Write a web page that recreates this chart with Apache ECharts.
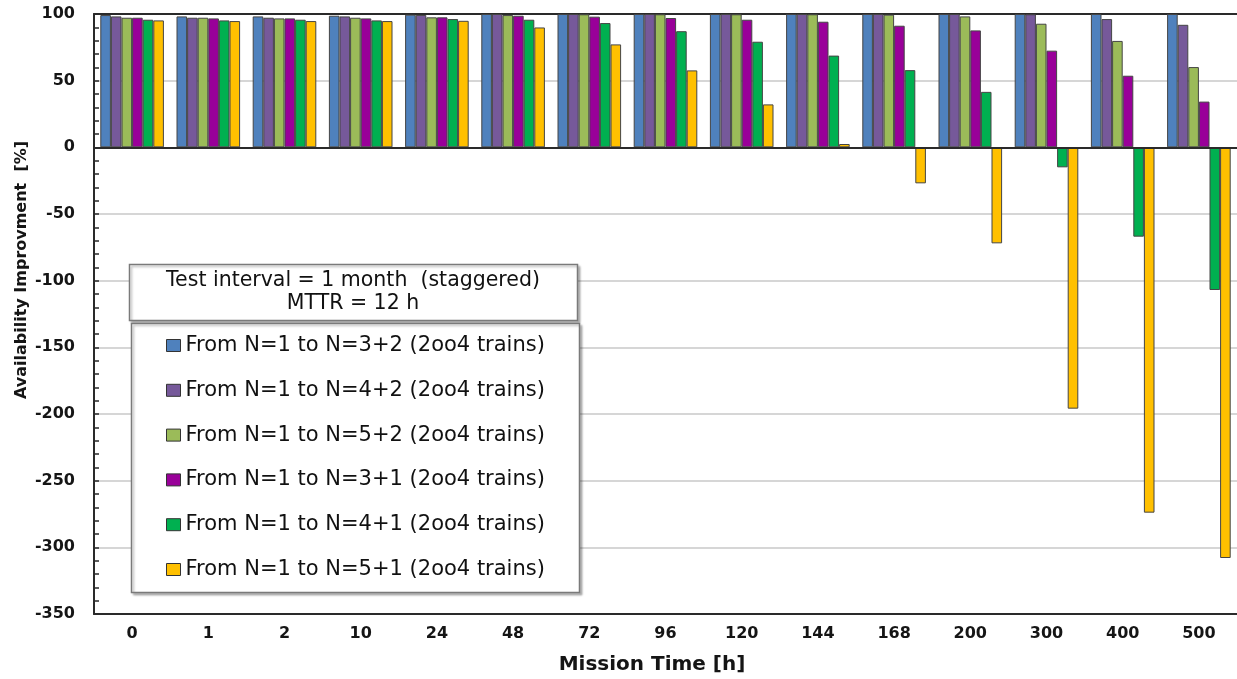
<!DOCTYPE html>
<html><head><meta charset="utf-8">
<script src="https://cdn.jsdelivr.net/npm/echarts/dist/echarts.min.js"></script>
<style>html,body{margin:0;padding:0;background:#fff}#c{width:1237px;height:679px}</style>
</head><body><div id="c"></div>
<script>
// Mission time categories [h]
const categories = ['0','1','2','10','24','48','72','96','120','144','168','200','300','400','500'];
const seriesNames = [
  'From N=1 to N=3+2 (2oo4 trains)',
  'From N=1 to N=4+2 (2oo4 trains)',
  'From N=1 to N=5+2 (2oo4 trains)',
  'From N=1 to N=3+1 (2oo4 trains)',
  'From N=1 to N=4+1 (2oo4 trains)',
  'From N=1 to N=5+1 (2oo4 trains)'
];
const seriesColors = ['#4F81BD','#76599A','#9BBB59','#990099','#00B050','#FFC000'];
// Availability improvement [%]
const n32 = [99.2, 98.2, 98.2, 98.7, 99.5, 100, 100, 100, 100, 100, 100, 100, 100, 100, 100];
const n42 = [98.2, 97.2, 97.2, 98.2, 99.3, 100, 100, 100, 100, 100, 100, 100, 99.8, 96.2, 91.9];
const n52 = [97.2, 97.2, 96.7, 97.2, 97.5, 99.2, 99.8, 99.8, 99.8, 99.8, 99.5, 98.2, 92.7, 79.8, 60.2];
const n31 = [97.2, 96.7, 96.7, 96.7, 97.5, 98.7, 98.0, 97.0, 95.7, 94.2, 91.2, 87.7, 72.5, 53.7, 34.3];
const n41 = [95.7, 95.2, 95.7, 95.2, 96.2, 95.7, 93.2, 87.1, 79.2, 68.8, 57.9, 41.6, -15, -67, -107];
const n51 = [95.2, 94.7, 94.7, 94.7, 94.9, 89.9, 77.2, 57.7, 32.2, 2.5, -27, -72, -196, -274, -308];
const seriesData = [n32, n42, n52, n31, n41, n51];
const yMin = -350, yMax = 100, yStep = 50;
const infoLines = ['Test interval = 1 month  (staggered)', 'MTTR = 12 h'];
const xTitle = 'Mission Time [h]';
const yTitle = 'Availability Improvment  [%]';

const chart = echarts.init(document.getElementById('c'));
const dark = '#2a2a2a';
const series = seriesData.map((d, i) => {
  const s = {
    name: seriesNames[i], type: 'bar', data: d,
    barWidth: 10.6, barGap: '0%',
    itemStyle: { color: seriesColors[i], borderColor: '#454545', borderWidth: 1 },
    z: 3
  };
  if (i === 5) {
    s.markLine = {
      silent: true, symbol: 'none', label: { show: false },
      lineStyle: { color: dark, width: 2, type: 'solid' },
      data: [{ yAxis: 0 }], z: 5
    };
  }
  return s;
});
const shadow = { shadowColor: 'rgba(0,0,0,0.25)', shadowOffsetX: 2, shadowOffsetY: 2, shadowBlur: 2 };
chart.setOption({
  animation: false,
  backgroundColor: '#fff',
  grid: { left: 94, right: 0, top: 14, bottom: 65, containLabel: false },
  xAxis: [{
    type: 'category', data: categories, position: 'bottom',
    axisLine: { onZero: false, lineStyle: { color: dark, width: 2 } },
    axisTick: { show: false },
    axisLabel: { margin: 12, color: '#151515', fontFamily: 'DejaVu Sans', fontWeight: 'bold', fontSize: 16 },
    splitLine: { show: false }
  }, {
    type: 'category', data: categories, position: 'top',
    axisLine: { onZero: false, lineStyle: { color: dark, width: 2 } },
    axisTick: { show: false }, axisLabel: { show: false }
  }],
  yAxis: {
    type: 'value', min: yMin, max: yMax, interval: yStep,
    axisLine: { show: true, lineStyle: { color: dark, width: 2 } },
    axisTick: { show: true, inside: true, length: 5, lineStyle: { color: dark, width: 1.5 } },
    minorTick: { show: true, splitNumber: 5, length: 5, lineStyle: { color: dark, width: 1.5 } },
    axisLabel: { margin: 19, color: '#151515', fontFamily: 'DejaVu Sans', fontWeight: 'bold', fontSize: 16 },
    splitLine: { show: true, lineStyle: { color: '#c8c8c8', width: 1.5 } }
  },
  legend: {
    orient: 'vertical', left: 166, top: 335, padding: 0,
    itemWidth: 14, itemHeight: 12, itemGap: 23.8, icon: 'rect',
    itemStyle: { borderColor: '#333', borderWidth: 1 },
    textStyle: { fontFamily: 'DejaVu Sans', fontSize: 21, lineHeight: 20, color: '#111' },
    data: seriesNames, z: 20
  },
  graphic: [
    { type: 'rect', z: 10, shape: { x: 129.5, y: 264.5, width: 448, height: 56 },
      style: Object.assign({ fill: '#fff', stroke: '#7a7a7a', lineWidth: 1.5 }, shadow) },
    { type: 'text', z: 11, x: 353, y: 281,
      style: { text: infoLines[0], fontFamily: 'DejaVu Sans', fontSize: 20.5, fill: '#111', textAlign: 'center', textVerticalAlign: 'middle' } },
    { type: 'text', z: 11, x: 353, y: 304,
      style: { text: infoLines[1], fontFamily: 'DejaVu Sans', fontSize: 20.5, fill: '#111', textAlign: 'center', textVerticalAlign: 'middle' } },
    { type: 'rect', z: 10, shape: { x: 131.5, y: 323.5, width: 448, height: 269 },
      style: Object.assign({ fill: '#fff', stroke: '#7a7a7a', lineWidth: 1.5 }, shadow) },
    { type: 'text', z: 11, x: 652, y: 665,
      style: { text: xTitle, fontFamily: 'DejaVu Sans', fontWeight: 'bold', fontSize: 20, fill: '#151515', textAlign: 'center', textVerticalAlign: 'middle' } },
    { type: 'text', z: 11, x: 22, y: 270, rotation: Math.PI / 2,
      style: { text: yTitle, fontFamily: 'DejaVu Sans', fontWeight: 'bold', fontSize: 16, fill: '#151515', textAlign: 'center', textVerticalAlign: 'middle' } }
  ],
  series: series
});
</script></body></html>
